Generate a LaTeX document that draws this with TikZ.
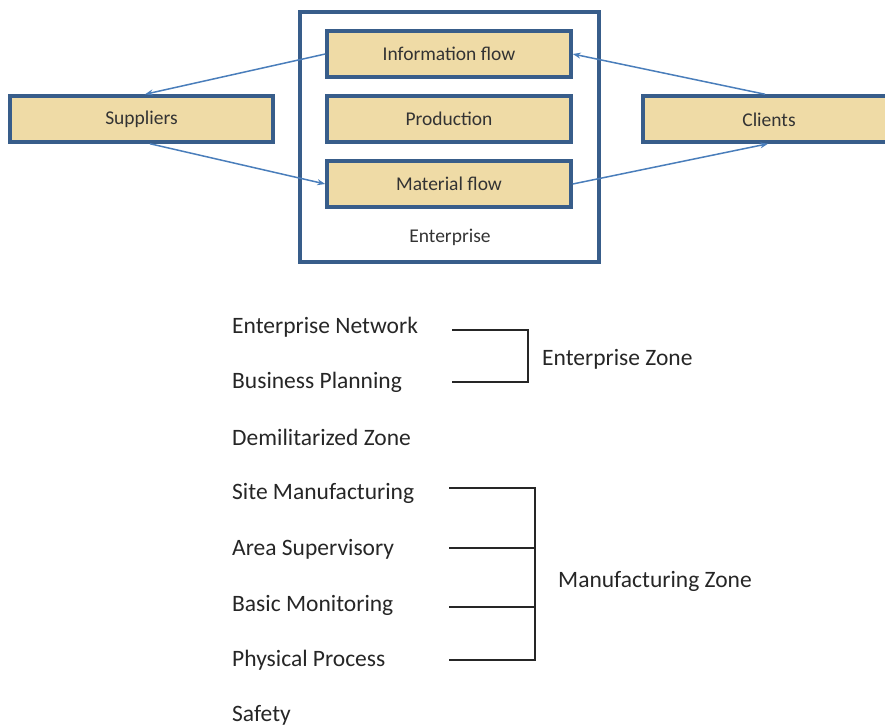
\documentclass[tikz,border=0pt]{standalone}
\usepackage{fontspec}
\setmainfont{Carlito}
\usetikzlibrary{arrows.meta}
\definecolor{boxblue}{HTML}{385D8A}
\definecolor{parch}{HTML}{EFDBA6}
\definecolor{arrblue}{HTML}{4A7EBB}
\begin{document}
\begin{tikzpicture}[x=1pt,y=-1pt,
  flowbox/.style={draw=boxblue,line width=3.5pt,fill=parch,minimum height=46pt,inner sep=0pt,font=\fontsize{19.5}{21}\selectfont,text=black!80},
  flowarrow/.style={draw=arrblue,line width=1.5pt,-{Stealth[length=8pt,width=6pt]}},
  lvl/.style={anchor=west,inner sep=0pt,font=\fontsize{23.5}{25}\selectfont,text=black!85},
  brk/.style={draw=black!85,line width=1.2pt}]
\useasboundingbox (0,0) rectangle (885,726);
% enterprise box
\node[draw=boxblue,line width=3.5pt,minimum width=299pt,minimum height=250pt,inner sep=0pt] (ent) at (449.5,137) {};
\node[font=\fontsize{19.5}{21}\selectfont,text=black!80] (entlabel) at (450,237) {Enterprise};
\node[flowbox,minimum width=244pt] (info) at (449,54) {Information flow};
\node[flowbox,minimum width=244pt] (prod) at (449,119) {Production};
\node[flowbox,minimum width=244pt] (mat) at (449,184) {Material flow};
\node[flowbox,minimum width=263pt] (sup) at (141.5,119) {Suppliers};
\node[flowbox,minimum width=252pt] (cli) at (769,119) {};
\node[font=\fontsize{19.5}{21}\selectfont,text=black!80] (clitext) at (769,120) {Clients};
% arrows
\draw[flowarrow] (info.west) -- (sup.north -| 145,0);
\draw[flowarrow] (sup.south -| 150,0) -- (mat.west);
\draw[flowarrow] (cli.north -| 765,0) -- (info.east);
\draw[flowarrow] (mat.east) -- (cli.south -| 768,0);
% levels
\node[lvl] (en) at (232,327) {Enterprise Network};
\node[lvl] (bp) at (232,382) {Business Planning};
\node[lvl] (dz) at (232,437) {Demilitarized Zone};
\node[lvl] (sm) at (232,493) {Site Manufacturing};
\node[lvl] (as) at (232,549) {Area Supervisory};
\node[lvl] (bm) at (232,605) {Basic Monitoring};
\node[lvl] (pp) at (232,660) {Physical Process};
\node[lvl] (sf) at (232,715) {Safety};
% enterprise zone bracket
\coordinate (e1) at (452,330);
\coordinate (e2) at (528,330);
\coordinate (e3) at (528,382);
\coordinate (e4) at (452,382);
\draw[brk] (e1) -- (e2) -- (e3) -- (e4);
\node[lvl] (ez) at (542,359) {Enterprise Zone};
% manufacturing zone bracket
\coordinate (m1) at (449,488);
\coordinate (m2) at (449,548);
\coordinate (m3) at (449,607);
\coordinate (m4) at (449,660);
\coordinate (v1) at (535,488);
\coordinate (v2) at (535,548);
\coordinate (v3) at (535,607);
\coordinate (v4) at (535,660);
\draw[brk] (m1) -- (v1) -- (v4) -- (m4);
\draw[brk] (m2) -- (v2);
\draw[brk] (m3) -- (v3);
\node[lvl] (mz) at (558,581) {Manufacturing Zone};
\end{tikzpicture}
\end{document}
